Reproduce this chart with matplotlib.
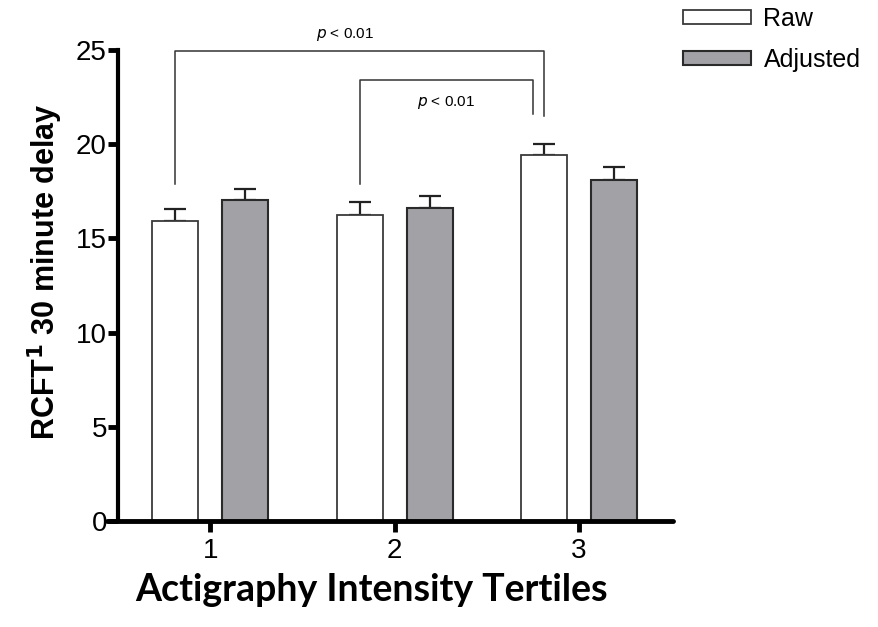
import numpy as np
from matplotlib import pyplot as plt

# data
tertiles = [1, 2, 3]
raw_mean = [15.9, 16.25, 19.42]
raw_sem = [0.68, 0.68, 0.6]
adj_mean = [17.02, 16.6, 18.1]
adj_sem = [0.6, 0.63, 0.68]
series_names = ['Raw', 'Adjusted']
p_text = ['$p$ < 0.01', '$p$ < 0.01']

plt.rcParams['font.family'] = ['Liberation Sans', 'DejaVu Sans']

fig = plt.figure(figsize=(8.79, 6.27), dpi=100)
ax = fig.add_axes([107/879, 1 - 521/627, (673 - 107)/879, 471/627])

x = np.array(tertiles, dtype=float)
w = 0.25
off = 0.19
ax.bar(x - off, raw_mean, w, color='white', edgecolor='#3a3a3a', linewidth=1.3, label=series_names[0], zorder=2)
ax.bar(x + off, adj_mean, w, color='#a2a2a6', edgecolor='#2a2a2a', linewidth=1.5, label=series_names[1], zorder=2)
zeros = np.zeros(3)
ax.errorbar(x - off, raw_mean, yerr=[zeros, raw_sem], fmt='none', ecolor='#222222',
            elinewidth=1.6, capsize=8, capthick=1.6, zorder=1)
ax.errorbar(x + off, adj_mean, yerr=[zeros, adj_sem], fmt='none', ecolor='#222222',
            elinewidth=1.6, capsize=8, capthick=1.6, zorder=1)

# significance brackets
bc = '#333333'
ax.plot([x[0] - off, x[0] - off, x[2] - off, x[2] - off], [17.9, 24.95, 24.95, 21.5], color=bc, lw=1.1)
ax.plot([x[1] - off, x[1] - off, x[2] - off - 0.06, x[2] - off - 0.06], [17.9, 23.4, 23.4, 21.6], color=bc, lw=1.1)
ax.text(1.73, 25.8, p_text[0], ha='center', va='center', fontsize=11)
ax.text(2.28, 22.2, p_text[1], ha='center', va='center', fontsize=11)

ax.set_xlim(0.44, 3.51)
ax.set_ylim(0, 25)
ax.set_yticks([0, 5, 10, 15, 20, 25])
ax.set_xticks(tertiles)
for s in ['top', 'right']:
    ax.spines[s].set_visible(False)
ax.spines['left'].set_position(('data', 0.5))
ax.spines['left'].set_linewidth(3)
ax.spines['bottom'].set_linewidth(3.5)
ax.spines['bottom'].set_capstyle('round')
ax.tick_params(axis='y', length=7, width=3.5, labelsize=20, pad=1)
ax.tick_params(axis='x', length=8, width=3.5, labelsize=20, pad=4)

ax.set_ylabel('RCFT$^\\mathbf{1}$ 30 minute delay', fontsize=22, fontweight='bold')
ax.yaxis.set_label_coords(-0.074, 0.53)
fig.text(372/879, 1 - 590/627, 'Actigraphy Intensity Tertiles', ha='center', va='center',
         fontsize=27, fontweight='bold', family=['Lato', 'DejaVu Sans'])

fig.legend(loc='upper left', bbox_to_anchor=(666/879, 1.017), frameon=False, fontsize=18,
           handlelength=2.7, handleheight=0.5, handletextpad=0.5, labelspacing=0.68, borderpad=0.2)

fig.savefig('out.png', dpi=100)
